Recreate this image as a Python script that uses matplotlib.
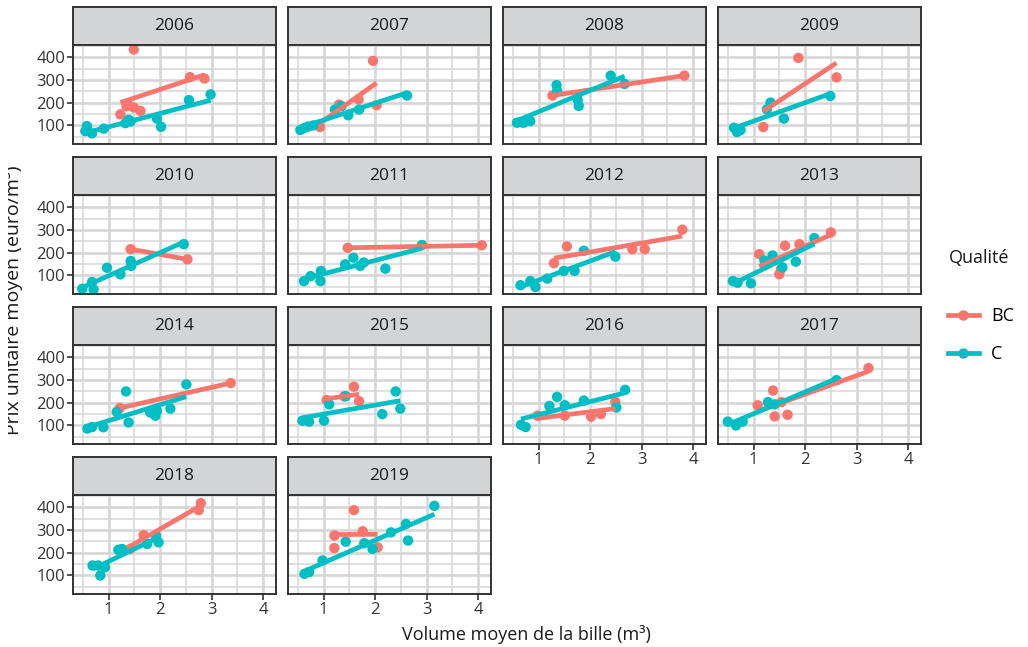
import numpy as np
import matplotlib.pyplot as plt
from matplotlib.lines import Line2D
from matplotlib.transforms import Bbox, TransformedBbox

plt.rcParams['font.family'] = ['Open Sans', 'DejaVu Sans']

"""Prix unitaire moyen vs volume moyen de la bille, par annee et par qualite"""
annees = list(range(2006, 2020))

# qualite BC
bc_vol = {
    2006: [1.23, 1.35, 1.39, 1.49, 1.49, 1.62, 2.58, 2.86],
    2007: [0.93, 1.30, 1.68, 1.96, 2.03],
    2008: [1.27, 3.83],
    2009: [1.19, 1.87, 2.61],
    2010: [1.43, 2.53],
    2011: [1.47, 4.07],
    2012: [1.30, 1.55, 2.82, 3.06, 3.79],
    2013: [1.11, 1.50, 1.53, 1.61, 1.89, 2.50],
    2014: [1.22, 3.37],
    2015: [1.06, 1.40, 1.59, 1.69],
    2016: [0.98, 1.51, 2.02, 2.21, 2.49],
    2017: [1.08, 1.38, 1.41, 1.54, 1.66, 3.23],
    2018: [1.42, 1.68, 2.75, 2.79],
    2019: [1.21, 1.21, 1.59, 1.76, 2.05],
}
bc_prix = {
    2006: [149, 185, 189, 179, 435, 164, 313, 307],
    2007: [93, 192, 215, 385, 189],
    2008: [232, 320],
    2009: [93, 398, 312],
    2010: [216, 171],
    2011: [222, 233],
    2012: [154, 228, 216, 216, 302],
    2013: [194, 105, 127, 231, 238, 290],
    2014: [177, 287],
    2015: [212, 228, 271, 207],
    2016: [143, 143, 139, 150, 204],
    2017: [189, 254, 140, 203, 147, 353],
    2018: [217, 278, 388, 419],
    2019: [276, 221, 388, 295, 224],
}

# qualite C
c_vol = {
    2006: [0.55, 0.58, 0.68, 0.91, 1.33, 1.39, 1.43, 1.94, 2.02, 2.56, 2.98],
    2007: [0.55, 0.62, 0.70, 0.80, 1.22, 1.35, 1.48, 1.69, 2.62],
    2008: [0.58, 0.66, 0.71, 0.84, 1.35, 1.36, 1.76, 1.78, 2.40, 2.67],
    2009: [0.62, 0.68, 0.75, 1.26, 1.33, 1.59, 2.49],
    2010: [0.49, 0.68, 0.71, 0.97, 1.23, 1.43, 1.44, 2.46],
    2011: [0.62, 0.75, 0.94, 0.95, 1.42, 1.58, 1.71, 1.78, 2.20, 2.91],
    2012: [0.65, 0.84, 0.94, 1.17, 1.49, 1.70, 1.88, 2.49],
    2013: [0.60, 0.69, 0.95, 1.21, 1.37, 1.56, 1.82, 2.18],
    2014: [0.59, 0.68, 0.90, 1.16, 1.34, 1.39, 1.81, 1.91, 1.94, 2.20, 2.51],
    2015: [0.59, 0.72, 1.01, 1.11, 1.43, 2.14, 2.40, 2.49],
    2016: [0.66, 0.75, 1.21, 1.36, 1.51, 1.88, 2.51, 2.68],
    2017: [0.50, 0.66, 0.79, 1.28, 1.41, 2.61],
    2018: [0.69, 0.80, 0.84, 0.93, 1.19, 1.26, 1.75, 1.92, 1.97],
    2019: [0.63, 0.72, 0.98, 1.43, 1.79, 1.95, 2.31, 2.60, 2.64, 3.15],
}
c_prix = {
    2006: [75, 97, 65, 86, 110, 125, 118, 130, 94, 212, 237],
    2007: [80, 88, 95, 100, 170, 185, 145, 170, 232],
    2008: [112, 115, 112, 119, 278, 253, 213, 186, 320, 283],
    2009: [90, 71, 80, 171, 201, 130, 230],
    2010: [41, 71, 38, 134, 105, 164, 142, 238],
    2011: [75, 97, 75, 120, 149, 178, 142, 157, 130, 234],
    2012: [57, 75, 49, 86, 120, 120, 209, 183],
    2013: [75, 68, 65, 166, 188, 136, 161, 265],
    2014: [86, 93, 92, 160, 250, 113, 157, 143, 164, 174, 281],
    2015: [121, 117, 121, 193, 229, 150, 250, 174],
    2016: [103, 93, 186, 226, 189, 210, 179, 257],
    2017: [117, 100, 117, 203, 193, 300],
    2018: [144, 144, 100, 136, 213, 217, 239, 275, 246],
    2019: [107, 115, 166, 249, 242, 217, 290, 327, 254, 407],
}

qualites = ['BC', 'C']
couleurs = {'BC': '#F8766D', 'C': '#00BFC4'}
series = {'BC': (bc_vol, bc_prix), 'C': (c_vol, c_prix)}

W, H = 1028, 647
fig = plt.figure(figsize=(W / 100, H / 100), dpi=100)


def etendue(v):
    # same 5% padding as ggplot's continuous scales
    lo, hi = min(v), max(v)
    pad = 0.05 * (hi - lo)
    return lo - pad, hi + pad


tous_x = [v for d in (bc_vol, c_vol) for a in annees for v in d[a]]
tous_y = [v for d in (bc_prix, c_prix) for a in annees for v in d[a]]
xlim = etendue(tous_x)
ylim = etendue(tous_y)


def boite(x, y, w, h):
    # pixel box (origin top left) -> figure fraction
    return [x / W, 1 - (y + h) / H, w / W, h / H]


bord = '#333333'
grille = '#d6d6d6'

for i, an in enumerate(annees):
    lig, col = divmod(i, 4)
    gauche = 73 + col * 215
    haut = 7 + lig * 150

    # strip
    st = fig.add_axes(boite(gauche, haut, 203, 38))
    st.set_facecolor('#d3d4d6')
    st.set_xticks([])
    st.set_yticks([])
    for s in st.spines.values():
        s.set_color(bord)
        s.set_linewidth(1.4)
    st.text(0.5, 0.5, str(an), ha='center', va='center', fontsize=12.5,
            color='#1a1a1a', transform=st.transAxes)

    ax = fig.add_axes(boite(gauche, haut + 38, 203, 99))
    ax.set_xlim(xlim)
    ax.set_ylim(ylim)
    ax.set_xticks([1, 2, 3, 4])
    ax.set_xticks([0.5, 1.5, 2.5, 3.5], minor=True)
    ax.set_yticks([100, 200, 300, 400])
    ax.set_yticks([50, 150, 250, 350, 450], minor=True)
    ax.grid(True, which='major', color=grille, lw=1.9)
    ax.grid(True, which='minor', color=grille, lw=1.1)
    ax.set_axisbelow(True)
    for s in ax.spines.values():
        s.set_color(bord)
        s.set_linewidth(1.4)
        s.set_zorder(6)

    # axes only on the outer panels
    bas = (i + 4) >= len(annees)
    ax.tick_params(which='minor', length=0)
    ax.tick_params(which='major', color=bord, width=1.2, length=4,
                   labelsize=12, labelcolor='#333333', pad=1.5,
                   left=(col == 0), labelleft=(col == 0),
                   bottom=bas, labelbottom=bas)

    for q in qualites:
        vol, prix = series[q]
        x = np.array(vol[an])
        y = np.array(prix[an])
        ax.scatter(x, y, s=56, color=couleurs[q], edgecolors='none', zorder=3)
    for q in qualites:
        vol, prix = series[q]
        x = np.array(vol[an])
        y = np.array(prix[an])
        # droite de regression lineaire sur l'etendue des points
        pente, orig = np.polyfit(x, y, 1)
        xs = np.array([x.min(), x.max()])
        ax.plot(xs, orig + pente * xs, color=couleurs[q], lw=3.4,
                solid_capstyle='butt', zorder=4)

fig.text(526 / W, 1 - 635 / H, 'Volume moyen de la bille (m³)',
         ha='center', va='center', fontsize=13, color='#1a1a1a')

# titre y : coupe sur le bord gauche
ty = fig.text(19 / W, 1 - 300 / H, 'Prix unitaire moyen (euro/m³)',
              rotation=90, rotation_mode='anchor', ha='center',
              va='baseline', fontsize=14, color='#1a1a1a')
ty.set_clip_box(TransformedBbox(Bbox.from_extents(8 / W, 0, 1, 1),
                                fig.transFigure))
ty.set_clip_on(True)

# legende
fig.text(949 / W, 1 - 258 / H, 'Qualité', ha='left', va='center',
         fontsize=13, color='#1a1a1a')
poignees = [Line2D([0], [0], color=couleurs[q], lw=3.4, marker='o',
                   markersize=7.5, markeredgewidth=0) for q in qualites]
fig.legend(poignees, qualites, loc='upper left',
           bbox_to_anchor=(948 / W, 1 - 307 / H), frameon=False,
           fontsize=13, handlelength=1.7, handletextpad=0.7,
           labelspacing=1.1, borderpad=0, borderaxespad=0)

fig.savefig('out.png', dpi=100)
